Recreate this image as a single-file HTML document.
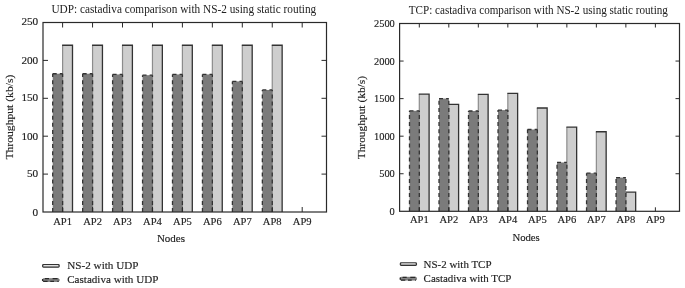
<!DOCTYPE html>
<html><head><meta charset="utf-8"><style>
html,body{margin:0;padding:0;background:#fff;}
svg{display:block;}
text{font-family:"Liberation Serif",serif;fill:#222;stroke:#222;stroke-width:0.15px;}
</style></head><body>
<svg width="685" height="288" viewBox="0 0 685 288">
<rect width="685" height="288" fill="#fff"/>
<rect x="62.60" y="45.24" width="9.90" height="166.76" fill="#cecece"/>
<path d="M62.60,212.00V45.24" stroke="#8c8c8c" stroke-width="1.2" fill="none"/>
<path d="M62.10,45.24H72.50V212.00" stroke="#333333" stroke-width="1.3" fill="none"/>
<rect x="52.70" y="73.74" width="9.90" height="138.26" fill="#7b7b7b"/>
<path d="M52.70,212.00V73.74" stroke="#333333" stroke-width="1.3" stroke-dasharray="4,3.1" fill="none"/>
<path d="M62.60,212.00V73.74" stroke="#333333" stroke-width="1.3" stroke-dasharray="4,3.1" fill="none"/>
<path d="M52.70,73.74H62.60" stroke="#333333" stroke-width="1.3" stroke-dasharray="4,3.1" fill="none"/>
<rect x="92.55" y="45.24" width="9.90" height="166.76" fill="#cecece"/>
<path d="M92.55,212.00V45.24" stroke="#8c8c8c" stroke-width="1.2" fill="none"/>
<path d="M92.05,45.24H102.45V212.00" stroke="#333333" stroke-width="1.3" fill="none"/>
<rect x="82.65" y="73.74" width="9.90" height="138.26" fill="#7b7b7b"/>
<path d="M82.65,212.00V73.74" stroke="#333333" stroke-width="1.3" stroke-dasharray="4,3.1" fill="none"/>
<path d="M92.55,212.00V73.74" stroke="#333333" stroke-width="1.3" stroke-dasharray="4,3.1" fill="none"/>
<path d="M82.65,73.74H92.55" stroke="#333333" stroke-width="1.3" stroke-dasharray="4,3.1" fill="none"/>
<rect x="122.50" y="45.24" width="9.90" height="166.76" fill="#cecece"/>
<path d="M122.50,212.00V45.24" stroke="#8c8c8c" stroke-width="1.2" fill="none"/>
<path d="M122.00,45.24H132.40V212.00" stroke="#333333" stroke-width="1.3" fill="none"/>
<rect x="112.60" y="74.42" width="9.90" height="137.58" fill="#7b7b7b"/>
<path d="M112.60,212.00V74.42" stroke="#333333" stroke-width="1.3" stroke-dasharray="4,3.1" fill="none"/>
<path d="M122.50,212.00V74.42" stroke="#333333" stroke-width="1.3" stroke-dasharray="4,3.1" fill="none"/>
<path d="M112.60,74.42H122.50" stroke="#333333" stroke-width="1.3" stroke-dasharray="4,3.1" fill="none"/>
<rect x="152.45" y="45.24" width="9.90" height="166.76" fill="#cecece"/>
<path d="M152.45,212.00V45.24" stroke="#8c8c8c" stroke-width="1.2" fill="none"/>
<path d="M151.95,45.24H162.35V212.00" stroke="#333333" stroke-width="1.3" fill="none"/>
<rect x="142.55" y="75.18" width="9.90" height="136.82" fill="#7b7b7b"/>
<path d="M142.55,212.00V75.18" stroke="#333333" stroke-width="1.3" stroke-dasharray="4,3.1" fill="none"/>
<path d="M152.45,212.00V75.18" stroke="#333333" stroke-width="1.3" stroke-dasharray="4,3.1" fill="none"/>
<path d="M142.55,75.18H152.45" stroke="#333333" stroke-width="1.3" stroke-dasharray="4,3.1" fill="none"/>
<rect x="182.40" y="45.24" width="9.90" height="166.76" fill="#cecece"/>
<path d="M182.40,212.00V45.24" stroke="#8c8c8c" stroke-width="1.2" fill="none"/>
<path d="M181.90,45.24H192.30V212.00" stroke="#333333" stroke-width="1.3" fill="none"/>
<rect x="172.50" y="74.42" width="9.90" height="137.58" fill="#7b7b7b"/>
<path d="M172.50,212.00V74.42" stroke="#333333" stroke-width="1.3" stroke-dasharray="4,3.1" fill="none"/>
<path d="M182.40,212.00V74.42" stroke="#333333" stroke-width="1.3" stroke-dasharray="4,3.1" fill="none"/>
<path d="M172.50,74.42H182.40" stroke="#333333" stroke-width="1.3" stroke-dasharray="4,3.1" fill="none"/>
<rect x="212.35" y="45.24" width="9.90" height="166.76" fill="#cecece"/>
<path d="M212.35,212.00V45.24" stroke="#8c8c8c" stroke-width="1.2" fill="none"/>
<path d="M211.85,45.24H222.25V212.00" stroke="#333333" stroke-width="1.3" fill="none"/>
<rect x="202.45" y="74.42" width="9.90" height="137.58" fill="#7b7b7b"/>
<path d="M202.45,212.00V74.42" stroke="#333333" stroke-width="1.3" stroke-dasharray="4,3.1" fill="none"/>
<path d="M212.35,212.00V74.42" stroke="#333333" stroke-width="1.3" stroke-dasharray="4,3.1" fill="none"/>
<path d="M202.45,74.42H212.35" stroke="#333333" stroke-width="1.3" stroke-dasharray="4,3.1" fill="none"/>
<rect x="242.30" y="45.24" width="9.90" height="166.76" fill="#cecece"/>
<path d="M242.30,212.00V45.24" stroke="#8c8c8c" stroke-width="1.2" fill="none"/>
<path d="M241.80,45.24H252.20V212.00" stroke="#333333" stroke-width="1.3" fill="none"/>
<rect x="232.40" y="81.40" width="9.90" height="130.60" fill="#7b7b7b"/>
<path d="M232.40,212.00V81.40" stroke="#333333" stroke-width="1.3" stroke-dasharray="4,3.1" fill="none"/>
<path d="M242.30,212.00V81.40" stroke="#333333" stroke-width="1.3" stroke-dasharray="4,3.1" fill="none"/>
<path d="M232.40,81.40H242.30" stroke="#333333" stroke-width="1.3" stroke-dasharray="4,3.1" fill="none"/>
<rect x="272.25" y="45.24" width="9.90" height="166.76" fill="#cecece"/>
<path d="M272.25,212.00V45.24" stroke="#8c8c8c" stroke-width="1.2" fill="none"/>
<path d="M271.75,45.24H282.15V212.00" stroke="#333333" stroke-width="1.3" fill="none"/>
<rect x="262.35" y="89.96" width="9.90" height="122.04" fill="#7b7b7b"/>
<path d="M262.35,212.00V89.96" stroke="#333333" stroke-width="1.3" stroke-dasharray="4,3.1" fill="none"/>
<path d="M272.25,212.00V89.96" stroke="#333333" stroke-width="1.3" stroke-dasharray="4,3.1" fill="none"/>
<path d="M262.35,89.96H272.25" stroke="#333333" stroke-width="1.3" stroke-dasharray="4,3.1" fill="none"/>
<rect x="43" y="22.5" width="283.50" height="189.50" fill="none" stroke="#2a2a2a" stroke-width="1.2"/>
<line x1="62.60" y1="22.5" x2="62.60" y2="27.5" stroke="#2a2a2a" stroke-width="1"/>
<line x1="62.60" y1="212" x2="62.60" y2="207" stroke="#2a2a2a" stroke-width="1"/>
<text x="62.60" y="224.6" text-anchor="middle" font-size="10.2" textLength="18.8" lengthAdjust="spacingAndGlyphs">AP1</text>
<line x1="92.55" y1="22.5" x2="92.55" y2="27.5" stroke="#2a2a2a" stroke-width="1"/>
<line x1="92.55" y1="212" x2="92.55" y2="207" stroke="#2a2a2a" stroke-width="1"/>
<text x="92.55" y="224.6" text-anchor="middle" font-size="10.2" textLength="18.8" lengthAdjust="spacingAndGlyphs">AP2</text>
<line x1="122.50" y1="22.5" x2="122.50" y2="27.5" stroke="#2a2a2a" stroke-width="1"/>
<line x1="122.50" y1="212" x2="122.50" y2="207" stroke="#2a2a2a" stroke-width="1"/>
<text x="122.50" y="224.6" text-anchor="middle" font-size="10.2" textLength="18.8" lengthAdjust="spacingAndGlyphs">AP3</text>
<line x1="152.45" y1="22.5" x2="152.45" y2="27.5" stroke="#2a2a2a" stroke-width="1"/>
<line x1="152.45" y1="212" x2="152.45" y2="207" stroke="#2a2a2a" stroke-width="1"/>
<text x="152.45" y="224.6" text-anchor="middle" font-size="10.2" textLength="18.8" lengthAdjust="spacingAndGlyphs">AP4</text>
<line x1="182.40" y1="22.5" x2="182.40" y2="27.5" stroke="#2a2a2a" stroke-width="1"/>
<line x1="182.40" y1="212" x2="182.40" y2="207" stroke="#2a2a2a" stroke-width="1"/>
<text x="182.40" y="224.6" text-anchor="middle" font-size="10.2" textLength="18.8" lengthAdjust="spacingAndGlyphs">AP5</text>
<line x1="212.35" y1="22.5" x2="212.35" y2="27.5" stroke="#2a2a2a" stroke-width="1"/>
<line x1="212.35" y1="212" x2="212.35" y2="207" stroke="#2a2a2a" stroke-width="1"/>
<text x="212.35" y="224.6" text-anchor="middle" font-size="10.2" textLength="18.8" lengthAdjust="spacingAndGlyphs">AP6</text>
<line x1="242.30" y1="22.5" x2="242.30" y2="27.5" stroke="#2a2a2a" stroke-width="1"/>
<line x1="242.30" y1="212" x2="242.30" y2="207" stroke="#2a2a2a" stroke-width="1"/>
<text x="242.30" y="224.6" text-anchor="middle" font-size="10.2" textLength="18.8" lengthAdjust="spacingAndGlyphs">AP7</text>
<line x1="272.25" y1="22.5" x2="272.25" y2="27.5" stroke="#2a2a2a" stroke-width="1"/>
<line x1="272.25" y1="212" x2="272.25" y2="207" stroke="#2a2a2a" stroke-width="1"/>
<text x="272.25" y="224.6" text-anchor="middle" font-size="10.2" textLength="18.8" lengthAdjust="spacingAndGlyphs">AP8</text>
<line x1="302.20" y1="22.5" x2="302.20" y2="27.5" stroke="#2a2a2a" stroke-width="1"/>
<line x1="302.20" y1="212" x2="302.20" y2="207" stroke="#2a2a2a" stroke-width="1"/>
<text x="302.20" y="224.6" text-anchor="middle" font-size="10.2" textLength="18.8" lengthAdjust="spacingAndGlyphs">AP9</text>
<text x="38.2" y="215.50" text-anchor="end" font-size="10.6" textLength="5.60" lengthAdjust="spacingAndGlyphs">0</text>
<line x1="43" y1="174.10" x2="48" y2="174.10" stroke="#2a2a2a" stroke-width="1"/>
<line x1="326.5" y1="174.10" x2="321.5" y2="174.10" stroke="#2a2a2a" stroke-width="1"/>
<text x="38.2" y="177.20" text-anchor="end" font-size="10.6" textLength="11.20" lengthAdjust="spacingAndGlyphs">50</text>
<line x1="43" y1="136.20" x2="48" y2="136.20" stroke="#2a2a2a" stroke-width="1"/>
<line x1="326.5" y1="136.20" x2="321.5" y2="136.20" stroke="#2a2a2a" stroke-width="1"/>
<text x="38.2" y="140.20" text-anchor="end" font-size="10.6" textLength="16.80" lengthAdjust="spacingAndGlyphs">100</text>
<line x1="43" y1="98.30" x2="48" y2="98.30" stroke="#2a2a2a" stroke-width="1"/>
<line x1="326.5" y1="98.30" x2="321.5" y2="98.30" stroke="#2a2a2a" stroke-width="1"/>
<text x="38.2" y="101.10" text-anchor="end" font-size="10.6" textLength="16.80" lengthAdjust="spacingAndGlyphs">150</text>
<line x1="43" y1="60.40" x2="48" y2="60.40" stroke="#2a2a2a" stroke-width="1"/>
<line x1="326.5" y1="60.40" x2="321.5" y2="60.40" stroke="#2a2a2a" stroke-width="1"/>
<text x="38.2" y="64.20" text-anchor="end" font-size="10.6" textLength="16.80" lengthAdjust="spacingAndGlyphs">200</text>
<text x="38.2" y="25.10" text-anchor="end" font-size="10.6" textLength="16.80" lengthAdjust="spacingAndGlyphs">250</text>
<text x="51.4" y="12.8" font-size="11.6" textLength="264.8" lengthAdjust="spacingAndGlyphs" style="stroke-width:0px">UDP: castadiva comparison with NS-2 using static routing</text>
<text x="156.9" y="241.8" font-size="11.2" textLength="28.1" lengthAdjust="spacingAndGlyphs">Nodes</text>
<text transform="translate(12.9,159.6) rotate(-90)" x="0" y="0" font-size="11.2" textLength="85.0" lengthAdjust="spacingAndGlyphs">Throughput (kb/s)</text>
<rect x="42.6" y="264.6" width="16.60" height="2.60" rx="0.9" fill="#a0a0a0" stroke="#333333" stroke-width="1.15"/>
<path d="M43.60,265.55H58.20" stroke="#f0f0f0" stroke-width="0.9"/>
<rect x="42.6" y="278.7" width="16.60" height="2.70" rx="1" fill="#858585" stroke="#6a6a6a" stroke-width="0.8"/>
<path d="M44.90,278.70H49.00 M52.60,278.70H57.60 M43.20,281.40H47.60 M50.30,281.40H54.00 M57.40,281.40H58.60 M42.60,279.00V281.10" stroke="#2a2a2a" stroke-width="1.3" fill="none"/>
<text x="67.3" y="268.9" font-size="11.1" textLength="71.2" lengthAdjust="spacingAndGlyphs">NS-2 with UDP</text>
<text x="67.2" y="283.3" font-size="11.1" textLength="91.2" lengthAdjust="spacingAndGlyphs">Castadiva with UDP</text>
<rect x="419.30" y="94.04" width="9.80" height="117.26" fill="#cecece"/>
<path d="M419.30,211.30V94.04" stroke="#8c8c8c" stroke-width="1.2" fill="none"/>
<path d="M418.80,94.04H429.10V211.30" stroke="#333333" stroke-width="1.3" fill="none"/>
<rect x="409.50" y="110.79" width="9.80" height="100.51" fill="#7b7b7b"/>
<path d="M409.50,211.30V110.79" stroke="#333333" stroke-width="1.3" stroke-dasharray="4,3.1" fill="none"/>
<path d="M419.30,211.30V110.79" stroke="#333333" stroke-width="1.3" stroke-dasharray="4,3.1" fill="none"/>
<path d="M409.50,110.79H419.30" stroke="#333333" stroke-width="1.3" stroke-dasharray="4,3.1" fill="none"/>
<rect x="448.81" y="104.40" width="9.80" height="106.90" fill="#cecece"/>
<path d="M448.81,211.30V104.40" stroke="#8c8c8c" stroke-width="1.2" fill="none"/>
<path d="M448.31,104.40H458.61V211.30" stroke="#333333" stroke-width="1.3" fill="none"/>
<rect x="439.01" y="98.54" width="9.80" height="112.76" fill="#7b7b7b"/>
<path d="M439.01,211.30V98.54" stroke="#333333" stroke-width="1.3" stroke-dasharray="4,3.1" fill="none"/>
<path d="M448.81,211.30V98.54" stroke="#333333" stroke-width="1.3" stroke-dasharray="4,3.1" fill="none"/>
<path d="M439.01,98.54H448.81" stroke="#333333" stroke-width="1.3" stroke-dasharray="4,3.1" fill="none"/>
<rect x="478.32" y="94.34" width="9.80" height="116.96" fill="#cecece"/>
<path d="M478.32,211.30V94.34" stroke="#8c8c8c" stroke-width="1.2" fill="none"/>
<path d="M477.82,94.34H488.12V211.30" stroke="#333333" stroke-width="1.3" fill="none"/>
<rect x="468.52" y="111.01" width="9.80" height="100.29" fill="#7b7b7b"/>
<path d="M468.52,211.30V111.01" stroke="#333333" stroke-width="1.3" stroke-dasharray="4,3.1" fill="none"/>
<path d="M478.32,211.30V111.01" stroke="#333333" stroke-width="1.3" stroke-dasharray="4,3.1" fill="none"/>
<path d="M468.52,111.01H478.32" stroke="#333333" stroke-width="1.3" stroke-dasharray="4,3.1" fill="none"/>
<rect x="507.83" y="93.44" width="9.80" height="117.86" fill="#cecece"/>
<path d="M507.83,211.30V93.44" stroke="#8c8c8c" stroke-width="1.2" fill="none"/>
<path d="M507.33,93.44H517.63V211.30" stroke="#333333" stroke-width="1.3" fill="none"/>
<rect x="498.03" y="110.11" width="9.80" height="101.19" fill="#7b7b7b"/>
<path d="M498.03,211.30V110.11" stroke="#333333" stroke-width="1.3" stroke-dasharray="4,3.1" fill="none"/>
<path d="M507.83,211.30V110.11" stroke="#333333" stroke-width="1.3" stroke-dasharray="4,3.1" fill="none"/>
<path d="M498.03,110.11H507.83" stroke="#333333" stroke-width="1.3" stroke-dasharray="4,3.1" fill="none"/>
<rect x="537.34" y="108.01" width="9.80" height="103.29" fill="#cecece"/>
<path d="M537.34,211.30V108.01" stroke="#8c8c8c" stroke-width="1.2" fill="none"/>
<path d="M536.84,108.01H547.14V211.30" stroke="#333333" stroke-width="1.3" fill="none"/>
<rect x="527.54" y="129.49" width="9.80" height="81.81" fill="#7b7b7b"/>
<path d="M527.54,211.30V129.49" stroke="#333333" stroke-width="1.3" stroke-dasharray="4,3.1" fill="none"/>
<path d="M537.34,211.30V129.49" stroke="#333333" stroke-width="1.3" stroke-dasharray="4,3.1" fill="none"/>
<path d="M527.54,129.49H537.34" stroke="#333333" stroke-width="1.3" stroke-dasharray="4,3.1" fill="none"/>
<rect x="566.85" y="127.17" width="9.80" height="84.13" fill="#cecece"/>
<path d="M566.85,211.30V127.17" stroke="#8c8c8c" stroke-width="1.2" fill="none"/>
<path d="M566.35,127.17H576.65V211.30" stroke="#333333" stroke-width="1.3" fill="none"/>
<rect x="557.05" y="162.47" width="9.80" height="48.83" fill="#7b7b7b"/>
<path d="M557.05,211.30V162.47" stroke="#333333" stroke-width="1.3" stroke-dasharray="4,3.1" fill="none"/>
<path d="M566.85,211.30V162.47" stroke="#333333" stroke-width="1.3" stroke-dasharray="4,3.1" fill="none"/>
<path d="M557.05,162.47H566.85" stroke="#333333" stroke-width="1.3" stroke-dasharray="4,3.1" fill="none"/>
<rect x="596.36" y="131.75" width="9.80" height="79.55" fill="#cecece"/>
<path d="M596.36,211.30V131.75" stroke="#8c8c8c" stroke-width="1.2" fill="none"/>
<path d="M595.86,131.75H606.16V211.30" stroke="#333333" stroke-width="1.3" fill="none"/>
<rect x="586.56" y="173.21" width="9.80" height="38.09" fill="#7b7b7b"/>
<path d="M586.56,211.30V173.21" stroke="#333333" stroke-width="1.3" stroke-dasharray="4,3.1" fill="none"/>
<path d="M596.36,211.30V173.21" stroke="#333333" stroke-width="1.3" stroke-dasharray="4,3.1" fill="none"/>
<path d="M586.56,173.21H596.36" stroke="#333333" stroke-width="1.3" stroke-dasharray="4,3.1" fill="none"/>
<rect x="625.87" y="192.22" width="9.80" height="19.08" fill="#cecece"/>
<path d="M625.87,211.30V192.22" stroke="#8c8c8c" stroke-width="1.2" fill="none"/>
<path d="M625.37,192.22H635.67V211.30" stroke="#333333" stroke-width="1.3" fill="none"/>
<rect x="616.07" y="177.57" width="9.80" height="33.73" fill="#7b7b7b"/>
<path d="M616.07,211.30V177.57" stroke="#333333" stroke-width="1.3" stroke-dasharray="4,3.1" fill="none"/>
<path d="M625.87,211.30V177.57" stroke="#333333" stroke-width="1.3" stroke-dasharray="4,3.1" fill="none"/>
<path d="M616.07,177.57H625.87" stroke="#333333" stroke-width="1.3" stroke-dasharray="4,3.1" fill="none"/>
<rect x="399.6" y="23.5" width="279.90" height="187.80" fill="none" stroke="#2a2a2a" stroke-width="1.2"/>
<line x1="419.30" y1="23.5" x2="419.30" y2="27.5" stroke="#2a2a2a" stroke-width="1"/>
<line x1="419.30" y1="211.3" x2="419.30" y2="207.3" stroke="#2a2a2a" stroke-width="1"/>
<text x="419.30" y="223.4" text-anchor="middle" font-size="10.2" textLength="18.8" lengthAdjust="spacingAndGlyphs">AP1</text>
<line x1="448.81" y1="23.5" x2="448.81" y2="27.5" stroke="#2a2a2a" stroke-width="1"/>
<line x1="448.81" y1="211.3" x2="448.81" y2="207.3" stroke="#2a2a2a" stroke-width="1"/>
<text x="448.81" y="223.4" text-anchor="middle" font-size="10.2" textLength="18.8" lengthAdjust="spacingAndGlyphs">AP2</text>
<line x1="478.32" y1="23.5" x2="478.32" y2="27.5" stroke="#2a2a2a" stroke-width="1"/>
<line x1="478.32" y1="211.3" x2="478.32" y2="207.3" stroke="#2a2a2a" stroke-width="1"/>
<text x="478.32" y="223.4" text-anchor="middle" font-size="10.2" textLength="18.8" lengthAdjust="spacingAndGlyphs">AP3</text>
<line x1="507.83" y1="23.5" x2="507.83" y2="27.5" stroke="#2a2a2a" stroke-width="1"/>
<line x1="507.83" y1="211.3" x2="507.83" y2="207.3" stroke="#2a2a2a" stroke-width="1"/>
<text x="507.83" y="223.4" text-anchor="middle" font-size="10.2" textLength="18.8" lengthAdjust="spacingAndGlyphs">AP4</text>
<line x1="537.34" y1="23.5" x2="537.34" y2="27.5" stroke="#2a2a2a" stroke-width="1"/>
<line x1="537.34" y1="211.3" x2="537.34" y2="207.3" stroke="#2a2a2a" stroke-width="1"/>
<text x="537.34" y="223.4" text-anchor="middle" font-size="10.2" textLength="18.8" lengthAdjust="spacingAndGlyphs">AP5</text>
<line x1="566.85" y1="23.5" x2="566.85" y2="27.5" stroke="#2a2a2a" stroke-width="1"/>
<line x1="566.85" y1="211.3" x2="566.85" y2="207.3" stroke="#2a2a2a" stroke-width="1"/>
<text x="566.85" y="223.4" text-anchor="middle" font-size="10.2" textLength="18.8" lengthAdjust="spacingAndGlyphs">AP6</text>
<line x1="596.36" y1="23.5" x2="596.36" y2="27.5" stroke="#2a2a2a" stroke-width="1"/>
<line x1="596.36" y1="211.3" x2="596.36" y2="207.3" stroke="#2a2a2a" stroke-width="1"/>
<text x="596.36" y="223.4" text-anchor="middle" font-size="10.2" textLength="18.8" lengthAdjust="spacingAndGlyphs">AP7</text>
<line x1="625.87" y1="23.5" x2="625.87" y2="27.5" stroke="#2a2a2a" stroke-width="1"/>
<line x1="625.87" y1="211.3" x2="625.87" y2="207.3" stroke="#2a2a2a" stroke-width="1"/>
<text x="625.87" y="223.4" text-anchor="middle" font-size="10.2" textLength="18.8" lengthAdjust="spacingAndGlyphs">AP8</text>
<line x1="655.38" y1="23.5" x2="655.38" y2="27.5" stroke="#2a2a2a" stroke-width="1"/>
<line x1="655.38" y1="211.3" x2="655.38" y2="207.3" stroke="#2a2a2a" stroke-width="1"/>
<text x="655.38" y="223.4" text-anchor="middle" font-size="10.2" textLength="18.8" lengthAdjust="spacingAndGlyphs">AP9</text>
<text x="394.8" y="214.50" text-anchor="end" font-size="10.2" textLength="5.20" lengthAdjust="spacingAndGlyphs">0</text>
<line x1="399.6" y1="173.74" x2="403.6" y2="173.74" stroke="#2a2a2a" stroke-width="1"/>
<line x1="679.5" y1="173.74" x2="675.5" y2="173.74" stroke="#2a2a2a" stroke-width="1"/>
<text x="394.8" y="176.80" text-anchor="end" font-size="10.2" textLength="15.60" lengthAdjust="spacingAndGlyphs">500</text>
<line x1="399.6" y1="136.18" x2="403.6" y2="136.18" stroke="#2a2a2a" stroke-width="1"/>
<line x1="679.5" y1="136.18" x2="675.5" y2="136.18" stroke="#2a2a2a" stroke-width="1"/>
<text x="394.8" y="140.30" text-anchor="end" font-size="10.2" textLength="20.80" lengthAdjust="spacingAndGlyphs">1000</text>
<line x1="399.6" y1="98.62" x2="403.6" y2="98.62" stroke="#2a2a2a" stroke-width="1"/>
<line x1="679.5" y1="98.62" x2="675.5" y2="98.62" stroke="#2a2a2a" stroke-width="1"/>
<text x="394.8" y="102.20" text-anchor="end" font-size="10.2" textLength="20.80" lengthAdjust="spacingAndGlyphs">1500</text>
<line x1="399.6" y1="61.06" x2="403.6" y2="61.06" stroke="#2a2a2a" stroke-width="1"/>
<line x1="679.5" y1="61.06" x2="675.5" y2="61.06" stroke="#2a2a2a" stroke-width="1"/>
<text x="394.8" y="64.90" text-anchor="end" font-size="10.2" textLength="20.80" lengthAdjust="spacingAndGlyphs">2000</text>
<text x="394.8" y="26.50" text-anchor="end" font-size="10.2" textLength="20.80" lengthAdjust="spacingAndGlyphs">2500</text>
<text x="408.8" y="14.2" font-size="11.5" textLength="259.1" lengthAdjust="spacingAndGlyphs" style="stroke-width:0px">TCP: castadiva comparison with NS-2 using static routing</text>
<text x="512.4" y="240.7" font-size="11" textLength="27.4" lengthAdjust="spacingAndGlyphs">Nodes</text>
<text transform="translate(364.8,159.3) rotate(-90)" x="0" y="0" font-size="11" textLength="83.3" lengthAdjust="spacingAndGlyphs">Throughput (kb/s)</text>
<rect x="400.3" y="262.9" width="16.20" height="2.50" rx="0.9" fill="#a0a0a0" stroke="#333333" stroke-width="1.15"/>
<path d="M401.30,263.85H415.50" stroke="#f0f0f0" stroke-width="0.9"/>
<rect x="400.3" y="277.3" width="16.20" height="2.80" rx="1" fill="#858585" stroke="#6a6a6a" stroke-width="0.8"/>
<path d="M402.60,277.30H406.70 M410.30,277.30H415.30 M400.90,280.10H405.30 M408.00,280.10H411.70 M415.10,280.10H415.90 M400.30,277.60V279.80" stroke="#2a2a2a" stroke-width="1.3" fill="none"/>
<text x="423.6" y="267.7" font-size="11" textLength="67.9" lengthAdjust="spacingAndGlyphs">NS-2 with TCP</text>
<text x="423.6" y="281.6" font-size="11" textLength="87.8" lengthAdjust="spacingAndGlyphs">Castadiva with TCP</text>
</svg>
</body></html>
